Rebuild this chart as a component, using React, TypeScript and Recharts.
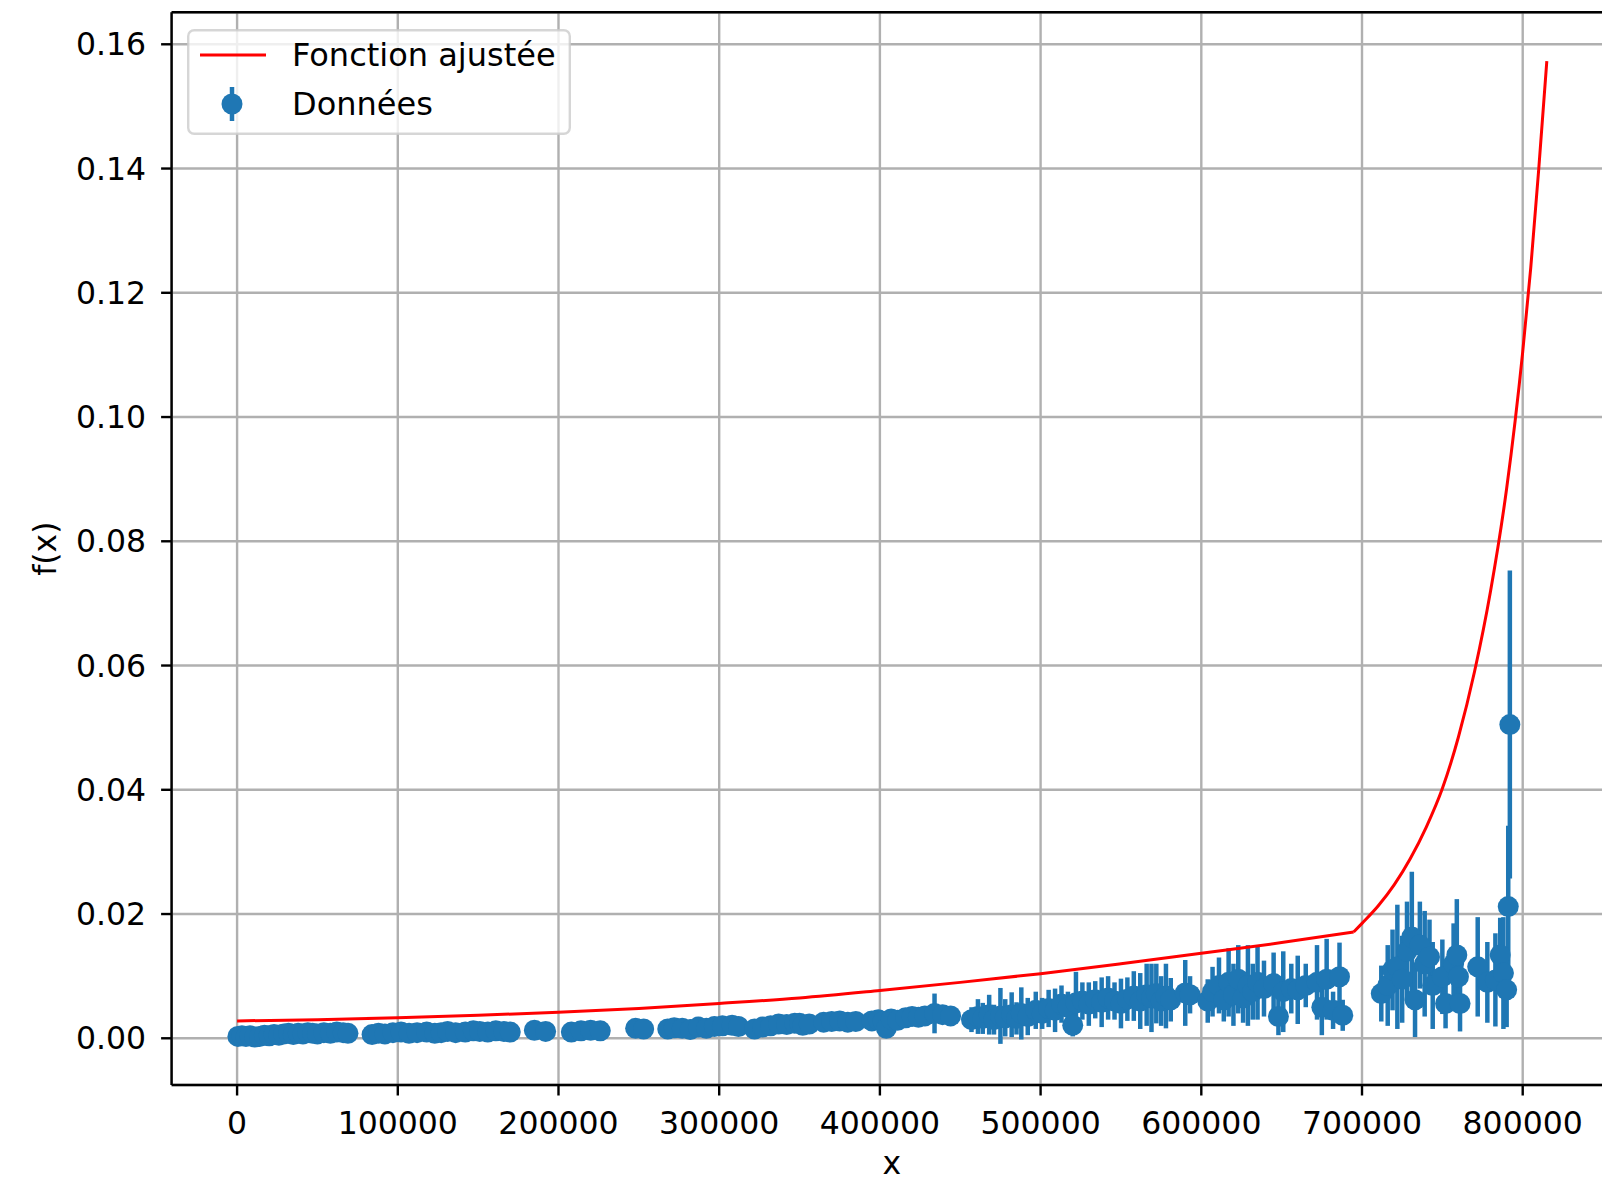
import React from 'react';
import {
  ComposedChart,
  Scatter,
  Line,
  XAxis,
  YAxis,
  CartesianGrid,
  ErrorBar,
  ReferenceLine,
  Legend,
} from 'recharts';

// axis ticks
const xTicks = [0, 100000, 200000, 300000, 400000, 500000, 600000, 700000, 800000];
const yTicks = [0, 0.02, 0.04, 0.06, 0.08, 0.1, 0.12, 0.14, 0.16];

// fitted function, slow branch then steep branch after the kink
const fitLowX = [0, 50000, 100000, 150000, 200000, 250000, 300000, 350000, 400000, 450000, 500000, 550000, 600000, 650000, 694800];
const fitLowY = [0.0028, 0.003, 0.0033, 0.0037, 0.0042, 0.0048, 0.0056, 0.0065, 0.0077, 0.009, 0.0104, 0.012, 0.0137, 0.0154, 0.0171];
const fitHighX = [694800, 700000, 710000, 720000, 730000, 740000, 750000, 760000, 770000, 780000, 790000, 800000, 805000, 810000, 815000];
const fitHighY = [0.0171, 0.0185, 0.0213, 0.0247, 0.0289, 0.034, 0.0402, 0.0485, 0.059, 0.072, 0.0885, 0.1105, 0.124, 0.14, 0.1573];

// measured points: x, f(x), error
const ptX = [
  500, 3000, 5500, 8000, 11000, 14000, 17000, 20000, 23000, 26000, 29000, 32000, 35000, 38000, 41000, 44000, 47000, 50000, 54000, 58000, 62000, 66000, 69000,
  84000, 88000, 92000, 97000, 102000, 107000, 112000, 118000, 123000, 127000, 131000, 136000, 142000, 147000, 151000, 156000, 161000, 166000, 170000,
  185000, 192000, 208000, 214000, 220000, 226000,
  248000, 253000,
  268000, 272000, 277000, 282000, 287000, 292000, 297000, 302000, 308000, 312000, 322000, 327000, 332000, 337000, 342000, 347000, 350000, 352000, 356000,
  365000, 370000, 375000, 380000, 385000,
  395000, 399000, 402000, 404000, 407000, 411000,
  416000, 420000, 424000, 428000, 434000, 439000, 444000,
  457000, 461000, 464000, 468000, 471000, 475000, 478000, 482000, 485000, 488000, 492000,
  497000, 501000, 505000, 509000, 513000, 517000, 520000, 522000, 526000, 530000, 534000, 538000, 542000, 546000, 550000, 554000, 558000, 562000, 566000, 569000, 572000, 575000, 578000, 581000, 590000, 593000,
  604000, 607000, 611000, 614000, 617000, 620000, 623000, 626000, 629000, 632000, 635000, 639000, 645000, 648000, 651000, 656000, 660000, 665000, 672000, 675000, 678000, 682000, 686000, 688000,
  712000, 716000, 719000, 722000, 725000, 728000, 731000, 733000, 736000, 739000, 742000, 744000, 750000, 752000, 757000, 759000, 760000, 761000, 772000, 778000, 783000, 786000, 788000, 790000, 791000, 792000,
];
const ptY = [
  0.0003, 0.0004, 0.0003, 0.0004, 0.0002, 0.0003, 0.0005, 0.0004, 0.0006, 0.0005, 0.0007, 0.0008, 0.0006, 0.0008, 0.0007, 0.0009, 0.0008, 0.0007, 0.0009, 0.0008, 0.001, 0.0009, 0.0008,
  0.0006, 0.0008, 0.0007, 0.0009, 0.001, 0.0008, 0.0009, 0.001, 0.0008, 0.0009, 0.0011, 0.0009, 0.001, 0.0012, 0.0011, 0.001, 0.0012, 0.0011, 0.001,
  0.0013, 0.0011, 0.001, 0.0012, 0.0013, 0.0012,
  0.0016, 0.0015,
  0.0015, 0.0017, 0.0016, 0.0014, 0.0018, 0.0016, 0.0019, 0.002, 0.0021, 0.0019, 0.0015, 0.0018, 0.002, 0.0023, 0.0022, 0.0024, 0.0024, 0.0021, 0.0023,
  0.0026, 0.0027, 0.0028, 0.0026, 0.0027,
  0.0028, 0.003, 0.0027, 0.0016, 0.0031, 0.0029,
  0.0033, 0.0035, 0.0034, 0.0036, 0.004, 0.0038, 0.0036,
  0.003, 0.0035, 0.0032, 0.0038, 0.003, 0.0036, 0.0033, 0.0038, 0.0032, 0.004, 0.0035,
  0.0045, 0.004, 0.0048, 0.0045, 0.0055, 0.005, 0.0021, 0.0057, 0.006, 0.0055, 0.0062, 0.0058, 0.0065, 0.006, 0.0056, 0.0063, 0.0068, 0.006, 0.007, 0.0065, 0.0072, 0.006, 0.0068, 0.0062, 0.0073, 0.007,
  0.006, 0.0075, 0.0085, 0.0062, 0.009, 0.007, 0.0095, 0.0065, 0.0085, 0.0075, 0.009, 0.008, 0.0088, 0.0035, 0.0075, 0.008, 0.0078, 0.0085, 0.009, 0.005, 0.0095, 0.0045, 0.0099, 0.0037,
  0.0072, 0.0085, 0.011, 0.0115, 0.0095, 0.014, 0.0163, 0.0062, 0.015, 0.012, 0.0131, 0.0085, 0.0099, 0.0056, 0.012, 0.0134, 0.0099, 0.0056, 0.0115, 0.009, 0.0094, 0.0134, 0.0105, 0.0078, 0.0212, 0.0505,
];
const ptErr = [
  0.0001, 0.0001, 0.0001, 0.0002, 0.0001, 0.0001, 0.0002, 0.0001, 0.0002, 0.0001, 0.0002, 0.0002, 0.0001, 0.0002, 0.0002, 0.0002, 0.0001, 0.0002, 0.0002, 0.0002, 0.0003, 0.0002, 0.0002,
  0.0002, 0.0002, 0.0002, 0.0002, 0.0002, 0.0002, 0.0002, 0.0002, 0.0002, 0.0002, 0.0002, 0.0002, 0.0002, 0.0002, 0.0002, 0.0002, 0.0002, 0.0002, 0.0002,
  0.0002, 0.0002, 0.0002, 0.0003, 0.0002, 0.0003,
  0.0003, 0.0003,
  0.0003, 0.0003, 0.0004, 0.0003, 0.0003, 0.0004, 0.0003, 0.0004, 0.0003, 0.0003, 0.0004, 0.0003, 0.0004, 0.0003, 0.0004, 0.0004, 0.0003, 0.0004, 0.0004,
  0.0006, 0.0008, 0.0006, 0.0007, 0.0006,
  0.0008, 0.001, 0.0008, 0.0006, 0.0009, 0.0008,
  0.0008, 0.001, 0.0009, 0.0012, 0.0032, 0.0012, 0.001,
  0.002, 0.0028, 0.0025, 0.0032, 0.0024, 0.0045, 0.003, 0.0036, 0.0026, 0.0042, 0.003,
  0.003, 0.0025, 0.003, 0.0035, 0.003, 0.0025, 0.0018, 0.005, 0.003, 0.0035, 0.003, 0.004, 0.0035, 0.003, 0.004, 0.0035, 0.004, 0.0045, 0.005, 0.0055, 0.0048, 0.004, 0.0052, 0.0035, 0.0053, 0.003,
  0.0035, 0.004, 0.0045, 0.0035, 0.0055, 0.005, 0.0055, 0.004, 0.0065, 0.0045, 0.006, 0.0045, 0.005, 0.003, 0.0065, 0.004, 0.0055, 0.0035, 0.006, 0.0045, 0.0065, 0.003, 0.0055, 0.0025,
  0.0045, 0.0065, 0.0065, 0.01, 0.007, 0.008, 0.0105, 0.006, 0.007, 0.0085, 0.006, 0.007, 0.006, 0.004, 0.0065, 0.009, 0.005, 0.0045, 0.008, 0.0065, 0.0075, 0.006, 0.009, 0.006, 0.013, 0.0248,
];

const points = ptX.map((x, i) => ({ x, y: ptY[i], err: ptErr[i] }));
const fittedLow = fitLowX.map((x, i) => ({ x, y: fitLowY[i] }));
const fittedHigh = fitHighX.map((x, i) => ({ x, y: fitHighY[i] }));

const X_DOMAIN: [number, number] = [-40750, 855750];
const Y_DOMAIN: [number, number] = [-0.00752, 0.16515];

const FONT = 'DejaVu Sans';
const BLUE = '#1f77b4';

const dot = (p: any) => <circle cx={p.cx} cy={p.cy} r={10.5} fill={BLUE} />;

const LegendBox = () => (
  <svg width={384} height={106} style={{ display: 'block' }}>
    <rect x={1.2} y={1.2} width={381.6} height={103.6} rx={6} fill="rgba(255,255,255,0.8)" stroke="rgba(204,204,204,0.8)" strokeWidth={2.4} />
    <line x1={13} y1={26} x2={79} y2={26} stroke="#ff0000" strokeWidth={3} />
    <text x={105} y={26} dominantBaseline="central" fontSize={32} fontFamily={FONT} fill="#000">
      Fonction ajustée
    </text>
    <line x1={45} y1={58} x2={45} y2={92} stroke={BLUE} strokeWidth={4.5} />
    <circle cx={45} cy={75} r={10.5} fill={BLUE} />
    <text x={105} y={75} dominantBaseline="central" fontSize={32} fontFamily={FONT} fill="#000">
      Données
    </text>
  </svg>
);

const YLabel = (props: any) => {
  const vb = props.viewBox || { y: 0, height: 0 };
  const cx = 45;
  const cy = vb.y + vb.height / 2;
  return (
    <text x={cx} y={cy} transform={`rotate(-90 ${cx} ${cy})`} textAnchor="middle" dominantBaseline="central" fontSize={31.5} fontFamily={FONT} fill="#000">
      f(x)
    </text>
  );
};

const axisStroke = { stroke: '#000', strokeWidth: 2.4 };
const tickStyle = { fill: '#000', fontSize: 31.5, fontFamily: FONT };

export default function App() {
  return (
    <div style={{ position: 'absolute', left: 0, top: 0, width: 1602, height: 1180, overflow: 'hidden', background: '#fff' }}>
      <ComposedChart width={1640} height={1180} margin={{ top: 12.3, right: 27.7, bottom: 0, left: 0 }}>
        <CartesianGrid stroke="#b0b0b0" strokeWidth={2.4} />
        <XAxis
          type="number"
          dataKey="x"
          domain={X_DOMAIN}
          ticks={xTicks}
          interval={0}
          allowDataOverflow
          height={95}
          tickSize={10.5}
          tickMargin={16}
          axisLine={axisStroke}
          tickLine={axisStroke}
          tick={tickStyle}
          label={{ value: 'x', position: 'insideBottom', offset: 6, fontSize: 31.5, fontFamily: FONT, fill: '#000' }}
        />
        <YAxis
          type="number"
          dataKey="y"
          domain={Y_DOMAIN}
          ticks={yTicks}
          interval={0}
          allowDataOverflow
          width={171.6}
          tickSize={10.5}
          tickMargin={15}
          axisLine={axisStroke}
          tickLine={axisStroke}
          tick={tickStyle}
          tickFormatter={(v: number) => v.toFixed(2)}
          label={<YLabel />}
        />
        <ReferenceLine y={Y_DOMAIN[1]} stroke="#000" strokeWidth={2.4} ifOverflow="visible" />
        <Scatter data={points} dataKey="y" fill={BLUE} shape={dot} isAnimationActive={false}>
          <ErrorBar dataKey="err" direction="y" width={0} stroke={BLUE} strokeWidth={4.5} isAnimationActive={false} />
        </Scatter>
        <Line
          data={fittedLow}
          dataKey="y"
          type="monotone"
          stroke="#ff0000"
          strokeWidth={3}
          dot={false}
          activeDot={false}
          isAnimationActive={false}
        />
        <Line
          data={fittedHigh}
          dataKey="y"
          type="monotone"
          stroke="#ff0000"
          strokeWidth={3}
          dot={false}
          activeDot={false}
          isAnimationActive={false}
        />
        <Legend
          layout="horizontal"
          verticalAlign="middle"
          align="center"
          content={() => <LegendBox />}
          wrapperStyle={{ left: 187, top: 29, width: 384, height: 106 }}
        />
      </ComposedChart>
    </div>
  );
}
